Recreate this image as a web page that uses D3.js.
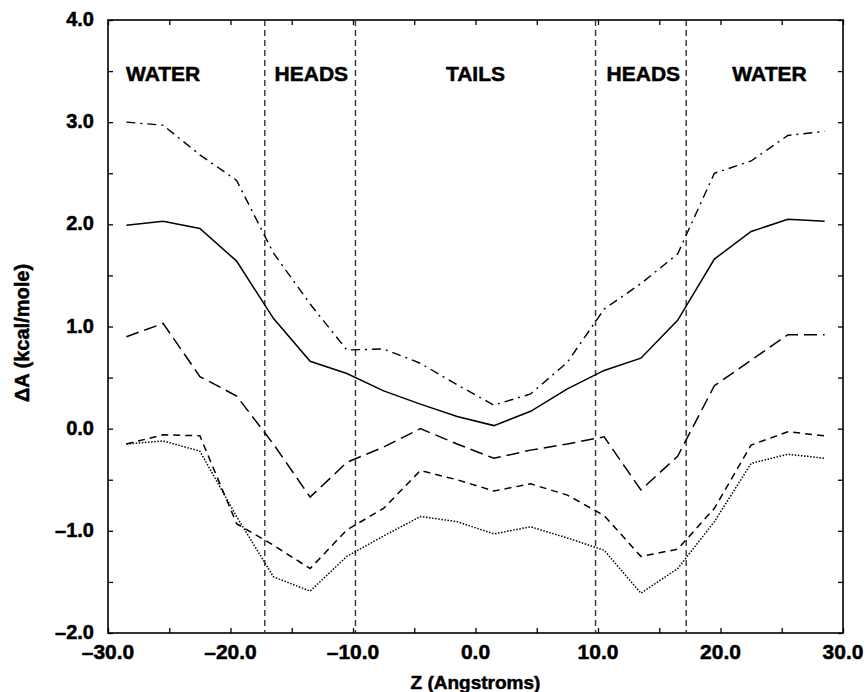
<!DOCTYPE html>
<html>
<head>
  <meta charset="utf-8">
  <title>Free energy profile across bilayer</title>
  <style>
    body { margin: 0; background: #fff; }
    text { font-family: "Liberation Sans", Arial, Helvetica, sans-serif; font-weight: bold; fill: #000; stroke: #000; stroke-width: 0.5; }
  </style>
</head>
<body>
  <svg width="866" height="692"></svg>
  <script src="https://d3js.org/d3.v7.min.js"></script>
  <script>

  // data
  var z = [-28.5, -25.5, -22.5, -19.5, -16.5, -13.5, -10.5, -7.5, -4.5, -1.5,
           1.5, 4.5, 7.5, 10.5, 13.5, 16.5, 19.5, 22.5, 25.5, 28.5];

  var dashDot   = [3.00, 2.97, 2.68, 2.43, 1.72, 1.22, 0.77, 0.78, 0.64, 0.43,
                   0.23, 0.34, 0.65, 1.17, 1.42, 1.71, 2.50, 2.62, 2.87, 2.91];
  var solid     = [1.99, 2.03, 1.96, 1.64, 1.08, 0.66, 0.54, 0.37, 0.24, 0.12,
                   0.03, 0.17, 0.39, 0.57, 0.69, 1.06, 1.66, 1.93, 2.05, 2.03];
  var longDash  = [0.90, 1.03, 0.51, 0.32, -0.15, -0.67, -0.33, -0.18, 0.00, -0.15,
                   -0.29, -0.21, -0.15, -0.08, -0.60, -0.27, 0.42, 0.67, 0.92, 0.92];
  var shortDash = [-0.15, -0.06, -0.07, -0.93, -1.14, -1.37, -0.99, -0.78, -0.41, -0.50,
                   -0.61, -0.54, -0.65, -0.85, -1.25, -1.18, -0.78, -0.16, -0.03, -0.07];
  var dotted    = [-0.15, -0.12, -0.22, -0.86, -1.45, -1.59, -1.25, -1.05, -0.86, -0.91,
                   -1.03, -0.96, -1.07, -1.19, -1.61, -1.37, -0.91, -0.34, -0.25, -0.29];

  var boundaries = [-17.2, -9.8, 9.8, 17.2];
  var regionNames = ["WATER", "HEADS", "TAILS", "HEADS", "WATER"];
  var regionZ = [-25.5, -13.4, 0, 13.7, 24.0];

  var xTicks = [-30, -20, -10, 0, 10, 20, 30];
  var yTicks = [-2, -1, 0, 1, 2, 3, 4];

  var series = [
    { values: dashDot,   dash: "9,5,2,5", width: 1.4 },
    { values: solid,     dash: null,      width: 1.5 },
    { values: longDash,  dash: "13,6",    width: 1.5 },
    { values: shortDash, dash: "7,5",     width: 1.5 },
    { values: dotted,    dash: "1.5,1.6", width: 1.5 }
  ];

  var svg = d3.select("svg");
  var margin = { top: 20, right: 23, bottom: 59, left: 108 };
  var W = 866 - margin.left - margin.right;
  var H = 692 - margin.top - margin.bottom;
  var g = svg.append("g").attr("transform", "translate(" + margin.left + "," + margin.top + ")");

  var x = d3.scaleLinear().domain([-30, 30]).range([0, W]);
  var y = d3.scaleLinear().domain([-2, 4]).range([H, 0]);

  var fmt = function(d) { return d3.format(".1f")(d).replace("−", "–").replace("-", "–"); };

  // axes with inward ticks, labels only on bottom/left
  function styleAxis(sel) {
    sel.select(".domain").remove();
    sel.selectAll(".tick line").attr("stroke", "#000").attr("stroke-width", 1.3);
  }
  var minorX = d3.range(-30, 30.1, 5);
  var minorY = d3.range(-2, 4.01, 0.5);

  g.append("g").attr("transform", "translate(0," + H + ")")
    .call(d3.axisBottom(x).tickValues(minorX).tickSizeInner(-5).tickSizeOuter(0).tickFormat(""))
    .call(styleAxis);
  g.append("g")
    .call(d3.axisTop(x).tickValues(minorX).tickSizeInner(-5).tickSizeOuter(0).tickFormat(""))
    .call(styleAxis);
  g.append("g")
    .call(d3.axisLeft(y).tickValues(minorY).tickSizeInner(-5).tickSizeOuter(0).tickFormat(""))
    .call(styleAxis);
  g.append("g").attr("transform", "translate(" + W + ",0)")
    .call(d3.axisRight(y).tickValues(minorY).tickSizeInner(-5).tickSizeOuter(0).tickFormat(""))
    .call(styleAxis);

  // frame
  g.append("rect").attr("x", 0).attr("y", 0).attr("width", W).attr("height", H)
    .attr("fill", "none").attr("stroke", "#000").attr("stroke-width", 1.6);

  // tick labels
  g.selectAll(".xlab").data(xTicks).enter().append("text")
    .attr("x", function(d) { return x(d); })
    .attr("y", H + 26)
    .attr("text-anchor", "middle")
    .attr("font-size", 21)
    .text(fmt);
  g.selectAll(".ylab").data(yTicks).enter().append("text")
    .attr("x", -14)
    .attr("y", function(d) { return y(d) + 6; })
    .attr("text-anchor", "end")
    .attr("font-size", 20)
    .text(fmt);

  // axis titles
  svg.append("text")
    .attr("x", margin.left + x(0))
    .attr("y", 689)
    .attr("text-anchor", "middle")
    .attr("font-size", 19)
    .text("Z (Angstroms)");
  svg.append("text")
    .attr("transform", "translate(29," + 333 + ") rotate(-90)")
    .attr("text-anchor", "middle")
    .attr("font-size", 20)
    .text("ΔA (kcal/mole)");

  // region boundaries
  g.selectAll(".bound").data(boundaries).enter().append("line")
    .attr("x1", function(d) { return x(d); })
    .attr("x2", function(d) { return x(d); })
    .attr("y1", 0).attr("y2", H)
    .attr("stroke", "#333")
    .attr("stroke-width", 1.4)
    .attr("stroke-dasharray", "6,4");

  // region labels
  g.selectAll(".region").data(regionNames).enter().append("text")
    .attr("x", function(d, i) { return x(regionZ[i]); })
    .attr("y", 61)
    .attr("text-anchor", "middle")
    .attr("font-size", 21)
    .text(function(d) { return d; });

  // curves
  var line = d3.line()
    .x(function(d, i) { return x(z[i]); })
    .y(function(d) { return y(d); });

  g.selectAll(".curve").data(series).enter().append("path")
    .attr("d", function(s) { return line(s.values); })
    .attr("fill", "none")
    .attr("stroke", "#000")
    .attr("stroke-width", function(s) { return s.width; })
    .attr("stroke-dasharray", function(s) { return s.dash; });
  </script>
</body>
</html>
